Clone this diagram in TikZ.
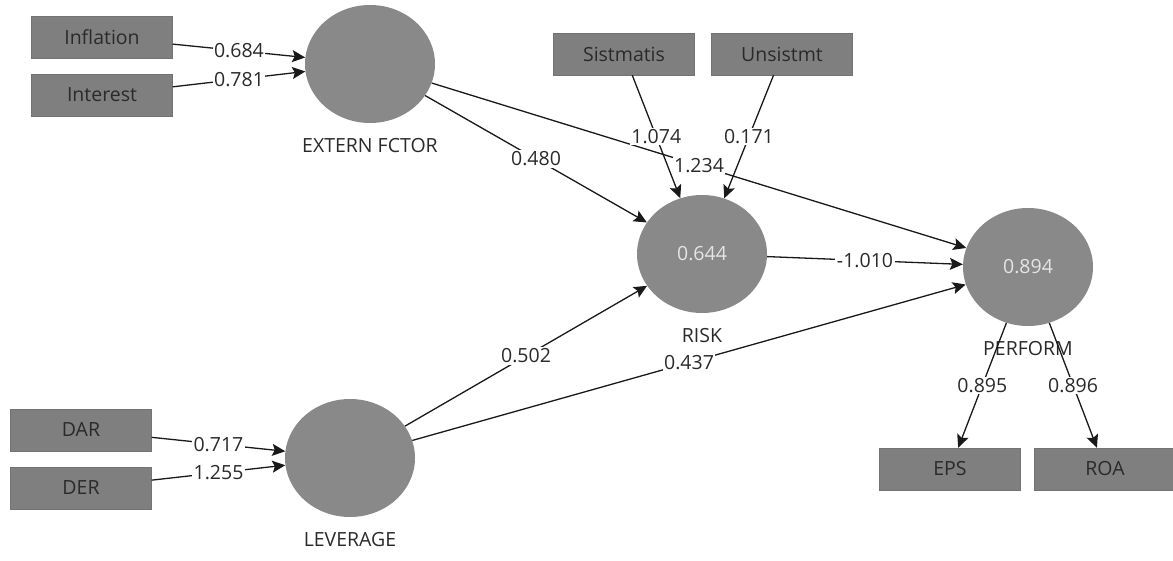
\documentclass[tikz,border=0pt]{standalone}
\usepackage{fontspec}
\setmainfont{Open Sans}
\usetikzlibrary{arrows.meta,shapes.geometric}
\definecolor{boxgray}{HTML}{7F7F7F}
\definecolor{latgray}{HTML}{898989}
\definecolor{txtdark}{HTML}{2A2A2A}
\tikzset{every node/.style={font=\fontsize{19.5}{22}\selectfont},
  ind/.style={draw=black!55,fill=boxgray,minimum width=141pt,minimum height=42pt,inner sep=0pt,text=txtdark},
  lat/.style={ellipse,fill=latgray,minimum width=130pt,minimum height=118pt,inner sep=0pt,text=white!90!black},
  lbl/.style={text=txtdark,label distance=12pt},
  lnk/.style={draw=black!90,line width=1.3pt,-{Stealth[length=13pt,width=12pt,inset=2.5pt]}},
  coef/.style={fill=white,inner sep=1.5pt,text=txtdark}}

\begin{document}
\begin{tikzpicture}[x=1pt,y=-1pt]
  \useasboundingbox (0,0) rectangle (1173,561);
  % indicators
  \node[ind] (infl) at (102,37)  {Inflation};
  \node[ind] (intr) at (102,95)  {Interest};
  \node[ind] (sist) at (624,54)  {Sistmatis};
  \node[ind] (unsi) at (782,54)  {Unsistmt};
  \node[ind] (dar)  at (81,430)  {DAR};
  \node[ind] (der)  at (81,488)  {DER};
  \node[ind] (eps)  at (950,469) {EPS};
  \node[ind] (roa)  at (1105,469){ROA};
  % latent variables
  \node[lat,label={[lbl]below:EXTERN FCTOR}] (ext)  at (370,64)   {};
  \node[lat,label={[lbl]below:RISK}]         (risk) at (702,254)  {0.644};
  \node[lat,label={[lbl]below:PERFORM}]      (perf) at (1028,267) {0.894};
  \node[lat,label={[lbl]below:LEVERAGE}]     (lev)  at (350,458)  {};
  % paths
  \draw[lnk] (ext)  -- node[coef]{1.234} (perf);
  \draw[lnk] (infl) -- node[coef]{0.684} (ext);
  \draw[lnk] (intr) -- node[coef]{0.781} (ext);
  \draw[lnk] (sist) -- node[coef]{1.074} (risk);
  \draw[lnk] (unsi) -- node[coef]{0.171} (risk);
  \draw[lnk] (ext)  -- node[coef]{0.480} (risk);
  \draw[lnk] (risk) -- node[coef]{-1.010} (perf);
  \draw[lnk] (lev)  -- node[coef]{0.502} (risk);
  \draw[lnk] (lev)  -- node[coef]{0.437} (perf);
  \draw[lnk] (dar)  -- node[coef]{0.717} (lev);
  \draw[lnk] (der)  -- node[coef]{1.255} (lev);
  \draw[lnk] (perf) -- node[coef]{0.895} (eps);
  \draw[lnk] (perf) -- node[coef]{0.896} (roa);
\end{tikzpicture}
\end{document}
